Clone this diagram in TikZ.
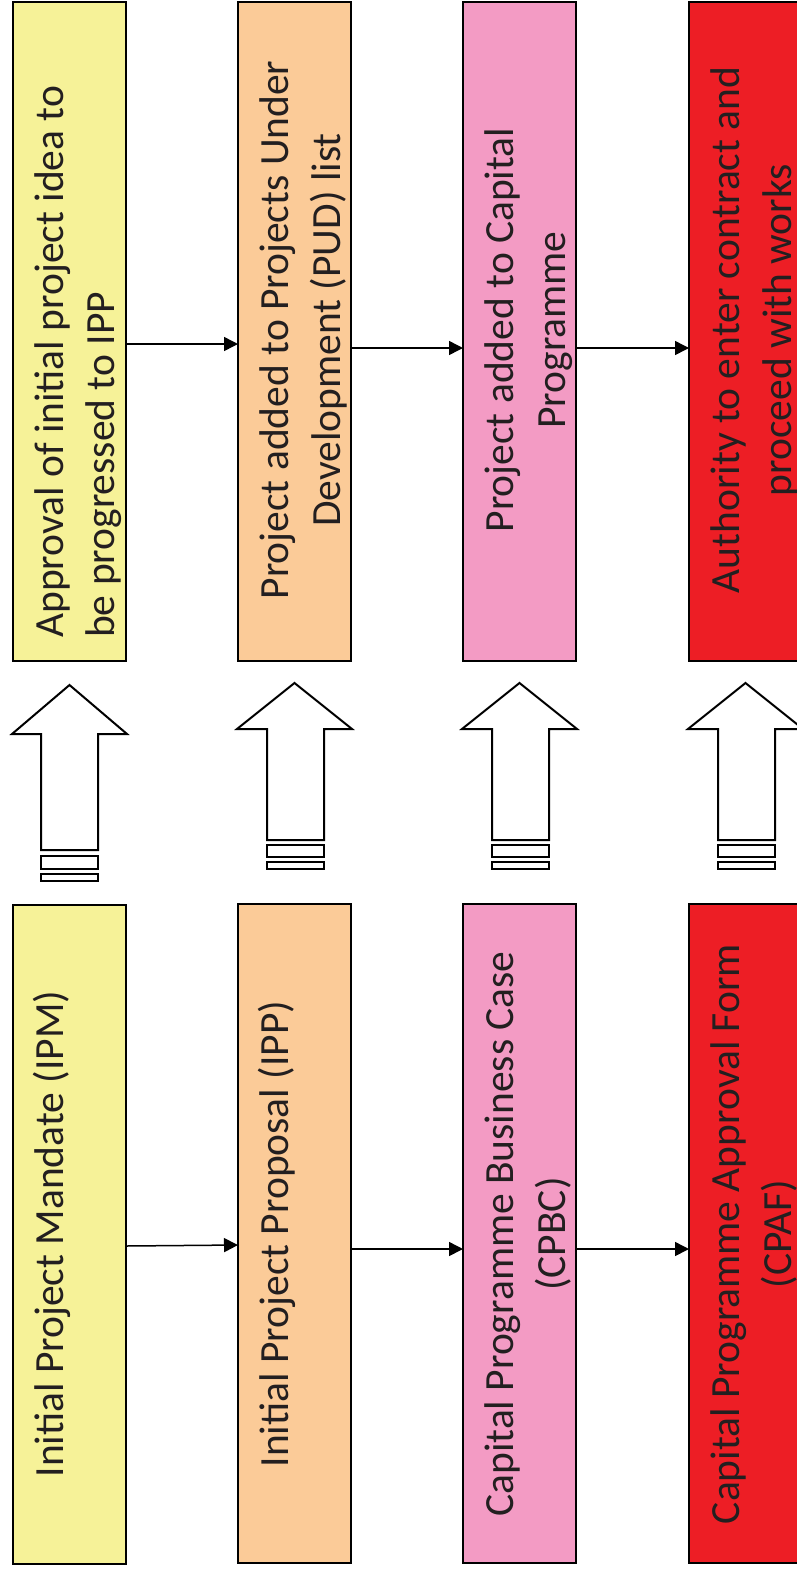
\documentclass[tikz,border=0pt]{standalone}
\usepackage{fontspec}
\setmainfont{Carlito}
\usetikzlibrary{arrows.meta}
\definecolor{cyel}{RGB}{246,242,152}
\definecolor{corg}{RGB}{251,203,152}
\definecolor{cpnk}{RGB}{243,155,196}
\definecolor{cred}{RGB}{237,30,37}
\definecolor{txt}{RGB}{35,31,32}
\begin{document}
\begin{tikzpicture}[x=1pt,y=-1pt,
  box/.style={draw=black,line width=2pt,minimum width=113pt,minimum height=659pt,inner sep=0pt,outer sep=0pt,anchor=north west},
  lbl/.style={rotate=90,anchor=base,inner sep=0pt,font=\fontsize{41.5}{52}\selectfont,text=txt},
  conn/.style={line width=1.5pt,-{Triangle[length=14pt,width=14pt]}},
  blk/.style={draw=black,line width=2pt,fill=white,line join=miter}]
\useasboundingbox (0,0) rectangle (797,1569);
% boxes
\node[box,fill=cyel] (t1) at (13,2) {};
\node[box,fill=corg] (t2) at (238,2) {};
\node[box,fill=cpnk] (t3) at (463,2) {};
\node[box,fill=cred] (t4) at (689,2) {};
\node[box,fill=cyel] (b1) at (13,905) {};
\node[box,fill=corg] (b2) at (238,904) {};
\node[box,fill=cpnk] (b3) at (463,904) {};
\node[box,fill=cred] (b4) at (689,904) {};
% top texts
\node[lbl,anchor=base west] (t1a) at (63,638) {Approval of initial project idea to};
\node[lbl,anchor=base west] (t1b) at (114,638) {be progressed to IPP};
\node[lbl] (t2a) at (288,330) {Project added to Projects Under};
\node[lbl] (t2b) at (340,330) {Development (PUD) list};
\node[lbl] (t3a) at (513,330) {Project added to Capital};
\node[lbl] (t3b) at (565,330) {Programme};
\node[lbl] (t4a) at (739,330) {Authority to enter contract and};
\node[lbl] (t4b) at (791,330) {proceed with works};
% bottom texts
\node[lbl] (b1a) at (63,1234) {Initial Project Mandate (IPM)};
\node[lbl] (b2a) at (288,1234) {Initial Project Proposal (IPP)};
\node[lbl] (b3a) at (513,1234) {Capital Programme Business Case};
\node[lbl] (b3b) at (565,1234) {(CPBC)};
\node[lbl] (b4a) at (739,1234) {Capital Programme Approval Form};
\node[lbl] (b4b) at (791,1234) {(CPAF)};
% connectors
\draw[conn] ([yshift=-12.5pt]t1.east) -- ([yshift=-12.5pt]t2.west);
\draw[conn] ([yshift=-16.5pt]t2.east) -- ([yshift=-16.5pt]t3.west);
\draw[conn] ([yshift=-16.5pt]t3.east) -- ([yshift=-16.5pt]t4.west);
\draw[conn] ([yshift=-11.5pt]b1.east) -- ([yshift=-11.5pt]b2.west);
\draw[conn] ([yshift=-15.5pt]b2.east) -- ([yshift=-15.5pt]b3.west);
\draw[conn] ([yshift=-15.5pt]b3.east) -- ([yshift=-15.5pt]b4.west);
% block arrows
\draw[blk] (69.5,685) -- (127,734) -- (98,734) -- (98,850) -- (41,850) -- (41,734) -- (12,734) -- cycle;
\draw[blk] (41,856) rectangle (98,869);
\draw[blk] (41,874) rectangle (98,881);
\foreach \L in {238,463,689}{
  \draw[blk] (\L+56.5,683) -- (\L+114,729) -- (\L+86,729) -- (\L+86,840) -- (\L+29,840) -- (\L+29,729) -- (\L-1,729) -- cycle;
  \draw[blk] (\L+29,845) rectangle (\L+86,857);
  \draw[blk] (\L+29,862) rectangle (\L+86,869);
}
\end{tikzpicture}
\end{document}
